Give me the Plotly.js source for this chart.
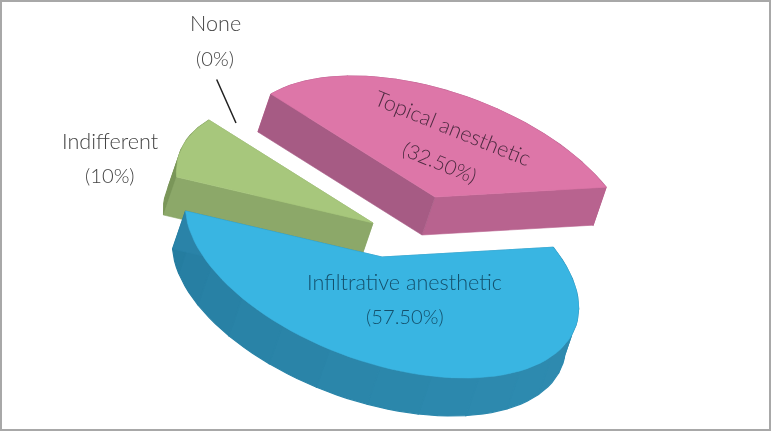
<!DOCTYPE html>
<html>
<head>
<meta charset="utf-8">
<script src="https://cdn.plot.ly/plotly-3.0.1.min.js"></script>
<style>html,body{margin:0;padding:0;background:#fff}#chart{width:771px;height:431px;will-change:transform}</style>
</head>
<body>
<div id="chart"></div>
<script>
// Data
const categories = ["Topical anesthetic", "Infiltrative anesthetic", "Indifferent", "None"];
const shares = [32.5, 57.5, 10, 0];
const shareLabels = ["(32.50%)", "(57.50%)", "(10%)", "(0%)"];

// Projection of the tilted pie (screen px)
const axisU = [-164, -103];
const axisV = [108.5, -63.5];
const depth = [-13, 38];
const apexes = {
  "Topical anesthetic": [435, 197],
  "Infiltrative anesthetic": [382, 257],
  "Indifferent": [373, 223]
};
const palette = {
  "Topical anesthetic": {top: "#dd76a8", cutA: "#a65b84", cutB: "#b8638f", side: ["#b8638f", "#b8638f"]},
  "Infiltrative anesthetic": {top: "#39b5e2", cutA: "#2a83a8", cutB: "#2a83a8", side: ["#2e8bb0", "#247b9e"]},
  "Indifferent": {top: "#a7c77c", cutA: "#8ca869", cutB: "#8ca869", side: ["#7a9659", "#7a9659"]}
};

function proj(apex, t) {
  const c = Math.cos(t), s = Math.sin(t);
  return [apex[0] + axisU[0] * c + axisV[0] * s, apex[1] + axisU[1] * c + axisV[1] * s];
}
function down(p) { return [p[0] + depth[0], p[1] + depth[1]]; }
function poly(points, color, lw) {
  const xs = points.map(p => p[0]), ys = points.map(p => p[1]);
  xs.push(xs[0]); ys.push(ys[0]);
  return {type: "scatter", mode: "lines", x: xs, y: ys, fill: "toself", fillcolor: color,
          line: {color: color, width: lw || 0.6}, hoverinfo: "skip", showlegend: false};
}
function mix(a, b, f) {
  const h = s => [1, 3, 5].map(i => parseInt(s.substr(i, 2), 16));
  const A = h(a), B = h(b);
  return "rgb(" + A.map((v, i) => Math.round(v + (B[i] - v) * f)).join(",") + ")";
}

// Slice angles from the shares
const total = shares.reduce((a, b) => a + b, 0);
let acc = 0;
const slices = {};
categories.forEach((c, i) => {
  const a0 = acc / total * 2 * Math.PI;
  acc += shares[i];
  slices[c] = {a0: a0, a1: acc / total * 2 * Math.PI, share: shares[i]};
});

function sliceTraces(name) {
  const s = slices[name];
  if (!s || s.share === 0) return [];
  const apex = apexes[name], pal = palette[name];
  const out = [];
  const steps = Math.max(4, Math.round((s.a1 - s.a0) / (Math.PI / 60)));
  const arc = [];
  for (let i = 0; i <= steps; i++) arc.push(proj(apex, s.a0 + (s.a1 - s.a0) * i / steps));
  // outer wall in narrow facets
  const facet = 5;
  for (let i = 0; i < steps; i += facet) {
    const j = Math.min(steps, i + facet);
    const pts = arc.slice(i, j + 1);
    const f = i / steps;
    const col = mix(pal.side[0], pal.side[1], Math.pow(f, 2) * (i % 2 ? 1 : 0.97));
    out.push(poly(pts.concat(pts.slice().reverse().map(down)), col, 1.2));
  }
  // cut faces
  out.push(poly([apex, arc[steps], down(arc[steps]), down(apex)], pal.cutB));
  out.push(poly([apex, arc[0], down(arc[0]), down(apex)], pal.cutA));
  // top
  out.push(poly([apex].concat(arc), pal.top));
  return out;
}

const traces = []
  .concat(sliceTraces(categories[0]))
  .concat(sliceTraces(categories[2]))
  .concat(sliceTraces(categories[1]));

function label(x, y, text, color, size, angle) {
  return {xref: "x", yref: "y", x: x, y: y, text: text, showarrow: false, textangle: angle || 0,
          xanchor: "center", yanchor: "middle",
          font: {family: "Lato, 'Open Sans', sans-serif", size: size, weight: 300, color: color}};
}
const nameSize = 21.6, shareSize = 20.2;
const annotations = [
  label(215, 23, categories[3], "#444444", nameSize),
  label(215, 58, shareLabels[3], "#444444", shareSize),
  label(110, 141, categories[2], "#444444", nameSize),
  label(110, 175, shareLabels[2], "#444444", shareSize),
  label(453, 128, categories[0], "#4d2a40", nameSize, 22),
  label(440, 162, shareLabels[0], "#4d2a40", shareSize, 22),
  label(404, 282, categories[1], "#14506c", nameSize),
  label(405, 316, shareLabels[1], "#14506c", shareSize),
  {xref: "x", yref: "y", axref: "x", ayref: "y", x: 236, y: 123, ax: 216, ay: 78, text: "",
   showarrow: true, arrowhead: 0, arrowwidth: 1.5, arrowcolor: "#222222", standoff: 0, startstandoff: 0}
];

const layout = {
  width: 771, height: 431,
  margin: {l: 0, r: 0, t: 0, b: 0},
  paper_bgcolor: "#ffffff", plot_bgcolor: "#ffffff",
  xaxis: {range: [0, 771], visible: false, fixedrange: true},
  yaxis: {range: [431, 0], visible: false, fixedrange: true},
  showlegend: false,
  annotations: annotations,
  shapes: [{type: "rect", xref: "x", yref: "y", x0: 1, y0: 1, x1: 770, y1: 430,
            line: {color: "#a8a8a8", width: 2}, fillcolor: "rgba(0,0,0,0)", layer: "above"}]
};
Plotly.newPlot("chart", traces, layout, {displayModeBar: false, staticPlot: true});
</script>
</body>
</html>
